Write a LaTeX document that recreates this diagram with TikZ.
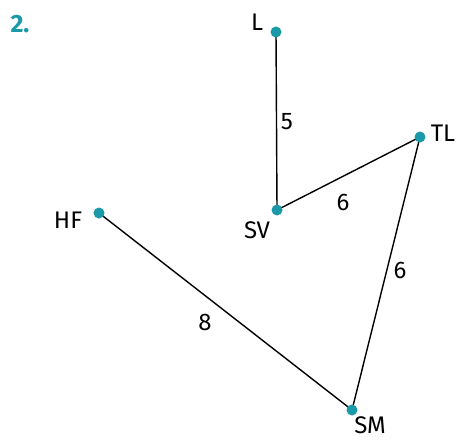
\documentclass[tikz,border=0pt]{standalone}
\usepackage{fontspec}
\setmainfont{Fira Sans}
\definecolor{teal1}{HTML}{1A99A8}
\begin{document}
\begin{tikzpicture}[x=1pt,y=-1pt,
  dot/.style={circle,fill=teal1,inner sep=0pt,minimum size=11pt},
  lbl/.style={inner sep=0pt,font=\fontsize{24}{28}\selectfont},
  edge/.style={line width=1.4pt}]
\useasboundingbox (0,0) rectangle (457,441);
\node[inner sep=0pt,font=\fontsize{25}{29}\selectfont\bfseries,text=teal1] (num) at (20,24) {2.};
\coordinate (L) at (276,32);
\coordinate (SV) at (277,210);
\coordinate (TL) at (420,137);
\coordinate (HF) at (99,213);
\coordinate (SM) at (352,410);
\draw[edge] (L) -- (SV);
\draw[edge] (SV) -- (TL);
\draw[edge] (TL) -- (SM);
\draw[edge] (HF) -- (SM);
\foreach \p in {L,SV,TL,HF,SM} \node[dot] (d\p) at (\p) {};
\node[lbl] (tL) at (257,22) {L};
\node[lbl] (t5) at (287,122) {5};
\node[lbl] (tTL) at (443,133) {TL};
\node[lbl] (t6a) at (343,202) {6};
\node[lbl] (tSV) at (257,230) {SV};
\node[lbl] (tHF) at (68,220) {HF};
\node[lbl] (t8) at (205,322) {8};
\node[lbl] (t6b) at (400,270) {6};
\node[lbl] (tSM) at (370,425) {SM};
\end{tikzpicture}
\end{document}
